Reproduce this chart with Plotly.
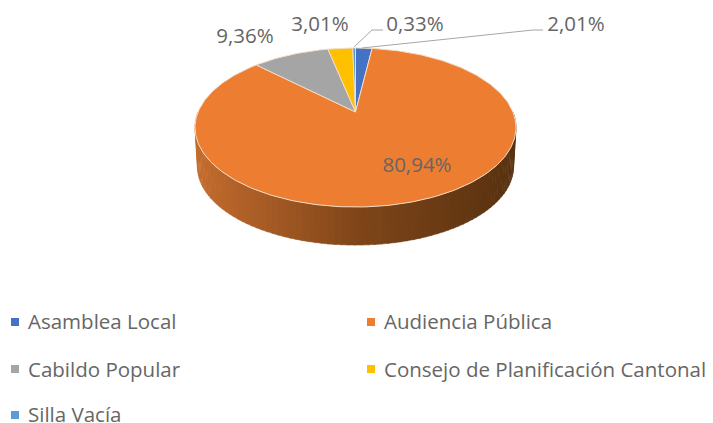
import numpy as np
import plotly.graph_objects as go

categories = ["Asamblea Local", "Audiencia Pública", "Cabildo Popular",
              "Consejo de Planificación Cantonal", "Silla Vacía"]
# Share of the circle as drawn in the picture (Audiencia's slice spans the remainder)
drawn_shares = [2.01, 85.29, 9.36, 3.01, 0.33]
# Labels as printed in the picture
value_labels = ["2,01%", "80,94%", "9,36%", "3,01%", "0,33%"]
colors = ["#4472c4", "#ed7d31", "#a5a5a5", "#ffc000", "#5b9bd5"]

label_x = [576, 417, 245, 320, 415]
label_y = [26, 167, 38, 26, 26]
legend_marker_x = [15, 371, 15, 371, 15]
legend_marker_y = [322, 322, 369, 369, 415]
legend_text_x = [28, 384, 28, 384, 28]
legend_text_y = [324, 324, 372, 372, 417]

APEX_X, APEX_Y = 355.5, 112.0
A, B, P = 157.4, 76.5, 0.195
WALL_DY, WALL_SCALE = 39.5, 0.985
TEXT = "#666666"
FONT = "Open Sans"
FS = 20.5
PAGE_INSET = 8  # the page's body margin


def project(theta, scale=1.0, dy=0.0):
    k = 1.0 / (1.0 + P * np.cos(theta))
    return (APEX_X + scale * A * np.sin(theta) * k,
            APEX_Y - scale * B * np.cos(theta) * k + dy)


def arc(a0, a1, n):
    return np.linspace(a0, a1, n)


fig = go.Figure()

# side wall of the front (only the big slice is visible from the front)
wall_angles = arc(np.pi / 2, 3 * np.pi / 2, 91)
stops = [(0.0, (88, 50, 16)), (0.5, (128, 70, 26)), (1.0, (196, 108, 46))]


def wall_color(t):
    for (t0, c0), (t1, c1) in zip(stops, stops[1:]):
        if t <= t1:
            f = (t - t0) / (t1 - t0)
            return "rgb(%d,%d,%d)" % tuple(c0[i] + f * (c1[i] - c0[i]) for i in range(3))
    return "rgb(%d,%d,%d)" % stops[-1][1]


for i in range(len(wall_angles) - 1):
    seg = np.linspace(wall_angles[i], wall_angles[i + 1] + 0.006, 3)
    tx, ty = project(seg)
    bx, by = project(seg[::-1], WALL_SCALE, WALL_DY)
    t = (project(seg[1])[0] - (APEX_X - 160)) / 320
    col = wall_color(1 - t)
    fig.add_trace(go.Scatter(x=np.r_[tx, bx], y=np.r_[ty, by], mode="lines", fill="toself",
                             fillcolor=col, line=dict(color=col, width=0.5),
                             hoverinfo="skip", showlegend=False))

# top face, one polygon per slice, angles from the shares
cum = np.cumsum([0] + drawn_shares) / sum(drawn_shares) * 2 * np.pi
for i, name in enumerate(categories):
    th = arc(cum[i], cum[i + 1], max(4, int(drawn_shares[i] * 4)))
    ex, ey = project(th)
    fig.add_trace(go.Scatter(x=np.r_[APEX_X, ex, APEX_X], y=np.r_[APEX_Y, ey, APEX_Y],
                             mode="lines", fill="toself", fillcolor=colors[i],
                             line=dict(color="#f3dcc6", width=1), name=name,
                             text=value_labels[i], hoverinfo="name+text", showlegend=False))

# leader lines
fig.add_trace(go.Scatter(x=[354, 372, 383], y=[47, 30, 30], mode="lines",
                         line=dict(color="#a6a6a6", width=1), hoverinfo="skip", showlegend=False))
fig.add_trace(go.Scatter(x=[362, 533, 543], y=[48, 30, 30], mode="lines",
                         line=dict(color="#a6a6a6", width=1), hoverinfo="skip", showlegend=False))

# value labels
fig.add_trace(go.Scatter(x=label_x, y=label_y, text=value_labels, mode="text",
                         textposition="middle center", cliponaxis=False,
                         textfont=dict(family=FONT, size=FS, color=TEXT),
                         hoverinfo="skip", showlegend=False))

# legend
fig.add_trace(go.Scatter(x=legend_marker_x, y=legend_marker_y, mode="markers",
                         marker=dict(symbol="square", size=8, color=colors),
                         cliponaxis=False, hoverinfo="skip", showlegend=False))
fig.add_trace(go.Scatter(x=legend_text_x, y=legend_text_y, text=categories, mode="text",
                         textposition="middle right", cliponaxis=False,
                         textfont=dict(family=FONT, size=FS, color=TEXT),
                         hoverinfo="skip", showlegend=False))

fig.update_layout(width=713 - PAGE_INSET, height=423 - PAGE_INSET,
                  margin=dict(l=0, r=0, t=0, b=0),
                  paper_bgcolor="white", plot_bgcolor="white", showlegend=False,
                  xaxis=dict(range=[PAGE_INSET, 713], visible=False, fixedrange=True),
                  yaxis=dict(range=[423, PAGE_INSET], visible=False, fixedrange=True))
fig.write_html("out.html", config=dict(displayModeBar=False))
